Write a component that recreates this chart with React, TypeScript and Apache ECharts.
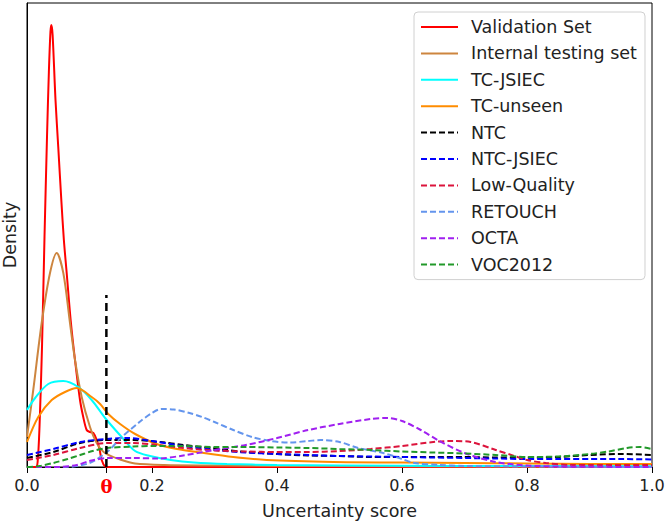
import React, { useEffect, useRef } from "react";
import * as echarts from "echarts";

const seriesNames = [
  "Validation Set",
  "Internal testing set",
  "TC-JSIEC",
  "TC-unseen",
  "NTC",
  "NTC-JSIEC",
  "Low-Quality",
  "RETOUCH",
  "OCTA",
  "VOC2012",
];

const seriesColors = [
  "#ff0000",
  "#cd853f",
  "#00ffff",
  "#ff8c00",
  "#000000",
  "#0000ff",
  "#dc143c",
  "#6495ed",
  "#a020f0",
  "#22992a",
];

const seriesDashed = [false, false, false, false, true, true, true, true, true, true];

const validationSet = [
  [0, 0], [0.014, 0], [0.017, 0.5], [0.02, 4], [0.024, 12], [0.028, 23], [0.032, 33],
  [0.035, 39.5], [0.0375, 43.5], [0.039, 44.2], [0.041, 43.2], [0.0456, 36.7], [0.05, 32],
  [0.055, 26.6], [0.059, 22.7], [0.0635, 19.4], [0.07, 14.6], [0.0768, 10.7], [0.0848, 6.7],
  [0.09, 5.0], [0.0955, 3.7], [0.1008, 3.5], [0.1061, 3.4], [0.1115, 2.7], [0.116, 1.8],
  [0.1195, 0.7], [0.125, 0.05], [0.13, 0], [0.3, 0], [0.6, 0], [1.0, 0],
];

const internalTesting = [
  [0, 3.0], [0.01, 7.7], [0.0235, 14.4], [0.0368, 19.4], [0.0475, 21.4], [0.0581, 19.4],
  [0.0688, 14.4], [0.0768, 10.7], [0.0875, 7.0], [0.1008, 4.0], [0.1115, 2.4], [0.1248, 1.4],
  [0.1515, 0.7], [0.1728, 0.35], [0.22, 0.2], [0.3, 0.15], [0.4, 0.1], [0.6, 0.08],
  [0.8, 0.05], [1.0, 0.05],
];

const tcJsiec = [
  [0, 5.7], [0.013, 6.9], [0.034, 8.3], [0.058, 8.6], [0.082, 8.0], [0.1035, 6.7],
  [0.125, 4.9], [0.1515, 3.0], [0.173, 1.6], [0.197, 1.1], [0.23, 0.7], [0.267, 0.45],
  [0.32, 0.3], [0.4, 0.2], [0.5, 0.15], [0.7, 0.1], [1.0, 0.08],
];

const tcUnseen = [
  [0, 2.5], [0.018, 5.0], [0.0395, 6.7], [0.0608, 7.5], [0.0795, 7.9], [0.1035, 7.0],
  [0.117, 6.3], [0.13, 5.3], [0.149, 4.3], [0.173, 3.3], [0.2075, 2.3], [0.24, 1.8],
  [0.277, 1.45], [0.33, 1.0], [0.3835, 0.7], [0.49, 0.5], [0.6, 0.45], [0.7, 0.4],
  [0.8, 0.35], [0.9, 0.3], [1.0, 0.3],
];

const ntc = [
  [0, 0.9], [0.042, 1.5], [0.085, 2.4], [0.128, 2.7], [0.17, 2.7], [0.213, 2.5], [0.25, 2.2],
  [0.3, 1.85], [0.35, 1.5], [0.4, 1.3], [0.45, 1.15], [0.5, 1.1], [0.55, 1.0], [0.6, 1.0],
  [0.65, 1.0], [0.7, 1.0], [0.75, 0.95], [0.8, 0.95], [0.85, 1.0], [0.9, 1.2], [0.95, 1.3],
  [1.0, 1.2],
];

const ntcJsiec = [
  [0, 1.2], [0.042, 1.8], [0.085, 2.5], [0.128, 2.8], [0.16, 2.9], [0.2, 2.6], [0.25, 2.1],
  [0.3, 1.7], [0.35, 1.45], [0.4, 1.3], [0.45, 1.2], [0.5, 1.1], [0.55, 1.05], [0.6, 1.0],
  [0.65, 0.95], [0.7, 0.9], [0.75, 0.85], [0.8, 0.8], [0.85, 0.8], [0.9, 0.8], [0.95, 0.8],
  [1.0, 0.75],
];

const lowQuality = [
  [0, 0.7], [0.042, 1.2], [0.085, 1.9], [0.128, 2.4], [0.17, 2.4], [0.21, 2.2], [0.25, 1.9],
  [0.3, 1.65], [0.35, 1.55], [0.4, 1.5], [0.45, 1.5], [0.5, 1.6], [0.55, 1.8], [0.6, 2.1],
  [0.65, 2.5], [0.68, 2.6], [0.71, 2.5], [0.75, 1.7], [0.78, 1.1], [0.8, 0.7], [0.83, 0.4],
  [0.87, 0.2], [0.9, 0.2], [1.0, 0.2],
];

const retouch = [
  [0, 0], [0.06, 0], [0.1, 0.4], [0.13, 1.6], [0.15, 2.9], [0.18, 4.5], [0.2, 5.4],
  [0.215, 5.8], [0.235, 5.75], [0.26, 5.4], [0.28, 5.0], [0.3, 4.5], [0.33, 3.7], [0.36, 3.0],
  [0.39, 2.6], [0.42, 2.45], [0.45, 2.6], [0.47, 2.7], [0.5, 2.5], [0.53, 1.9], [0.57, 1.4],
  [0.6, 0.8], [0.62, 0.4], [0.66, 0.2], [0.7, 0.1], [0.8, 0.05], [0.9, 0.02], [1.0, 0],
];

const octa = [
  [0, 0], [0.05, 0], [0.08, 0.2], [0.1, 0.6], [0.13, 0.9], [0.17, 0.9], [0.21, 0.85],
  [0.25, 1.15], [0.3, 1.7], [0.35, 2.2], [0.4, 2.9], [0.45, 3.7], [0.5, 4.3], [0.55, 4.8],
  [0.575, 4.9], [0.6, 4.6], [0.63, 3.7], [0.66, 2.6], [0.7, 1.4], [0.75, 0.5], [0.8, 0.15],
  [0.85, 0.05], [0.9, 0.02], [1.0, 0],
];

const voc2012 = [
  [0, 0], [0.02, 0.1], [0.042, 0.4], [0.065, 0.8], [0.085, 1.2], [0.105, 1.6], [0.128, 1.9],
  [0.17, 2.05], [0.2, 2.1], [0.25, 2.1], [0.3, 2.0], [0.35, 2.0], [0.4, 1.95], [0.45, 1.9],
  [0.5, 1.8], [0.55, 1.7], [0.6, 1.55], [0.65, 1.45], [0.7, 1.35], [0.75, 1.2], [0.8, 1.0],
  [0.85, 1.05], [0.9, 1.3], [0.93, 1.55], [0.96, 1.9], [0.98, 2.0], [1.0, 1.8],
];

const seriesData = [
  validationSet, internalTesting, tcJsiec, tcUnseen, ntc, ntcJsiec, lowQuality, retouch, octa, voc2012,
];

const thetaValue = 0.127;
const thetaLine = [[thetaValue, 0], [thetaValue, 17.2]];
const xTickValues = [0, thetaValue, 0.2, 0.4, 0.6, 0.8, 1.0];
const yMax = 46.4;

const FONT = "DejaVu Sans";

export default function App() {
  const ref = useRef<HTMLDivElement>(null);
  useEffect(() => {
    if (!ref.current) return;
    const chart = echarts.init(ref.current, null, { renderer: "svg" });
    const series: any[] = seriesNames.map((name, i) => ({
      name,
      type: "line",
      data: seriesData[i],
      symbol: "none",
      showSymbol: false,
      smooth: 0.3,
      itemStyle: { color: seriesColors[i] },
      lineStyle: {
        color: seriesColors[i],
        width: 2,
        type: seriesDashed[i] ? [6, 3] : "solid",
      },
      silent: true,
    }));
    series.push({
      name: "theta",
      type: "line",
      data: thetaLine,
      symbol: "none",
      showSymbol: false,
      itemStyle: { color: "#000" },
      lineStyle: { color: "#000", width: 2.5, type: [8, 5] },
      silent: true,
    });
    chart.setOption({
      animation: false,
      grid: {
        left: 27,
        right: 14,
        top: 3,
        bottom: 57,
        show: true,
        borderColor: "#000",
        borderWidth: 1,
        backgroundColor: "transparent",
        containLabel: false,
        outerBoundsMode: "none",
      },
      xAxis: {
        type: "value",
        min: 0,
        max: 1,
        splitLine: { show: false },
        axisLine: { show: true, lineStyle: { color: "#000", width: 1 } },
        axisTick: {
          show: true,
          length: 6,
          lineStyle: { color: "#000" },
          customValues: xTickValues,
        },
        axisLabel: {
          customValues: xTickValues,
          fontSize: 16,
          fontFamily: FONT,
          color: "#222",
          margin: 10,
          formatter: (v: number) =>
            Math.abs(v - thetaValue) < 1e-6 ? "{t|θ}" : v.toFixed(1),
          rich: {
            t: {
              color: "#ff0000",
              fontFamily: "DejaVu Serif",
              fontWeight: "bold",
              fontSize: 18,
            },
          },
        },
        name: "Uncertainty score",
        nameLocation: "middle",
        nameGap: 35,
        nameTextStyle: { fontSize: 17.5, fontFamily: FONT, color: "#222" },
      },
      yAxis: {
        type: "value",
        min: 0,
        max: yMax,
        splitLine: { show: false },
        axisLine: { show: true, lineStyle: { color: "#000", width: 1 } },
        axisTick: { show: false },
        axisLabel: { show: false },
        name: "Density",
        nameLocation: "middle",
        nameGap: 8,
        nameTextStyle: { fontSize: 17.5, fontFamily: FONT, color: "#222" },
      },
      legend: {
        data: seriesNames,
        orient: "vertical",
        left: 414,
        top: 12,
        itemWidth: 37,
        itemHeight: 14,
        itemGap: 6.4,
        padding: [5, 8, 5, 6],
        borderColor: "#d0d0d0",
        borderWidth: 1,
        borderRadius: 4,
        backgroundColor: "rgba(255,255,255,0.8)",
        selectedMode: false,
        itemStyle: { opacity: 0 },
        textStyle: {
          fontSize: 17.5,
          fontFamily: FONT,
          color: "#222",
          lineHeight: 20,
          padding: [0, 0, 0, 8],
        },
      },
      series,
    });
    return () => chart.dispose();
  }, []);
  return <div ref={ref} style={{ width: 666, height: 524, position: "absolute", left: 0, top: 0 }} />;
}
